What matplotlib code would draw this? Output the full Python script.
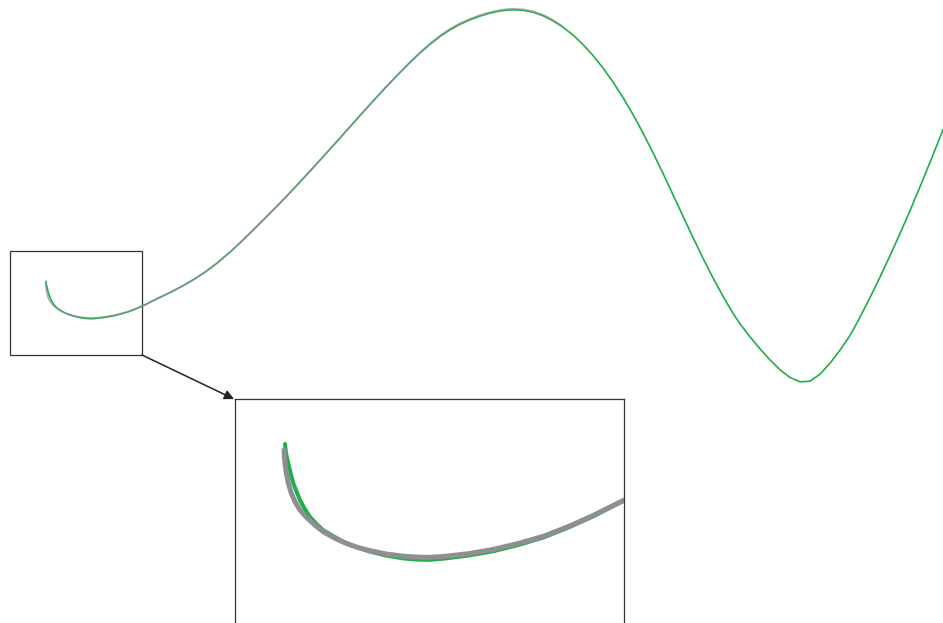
import numpy as np
import matplotlib.pyplot as plt
from matplotlib.patches import Rectangle

# values (x right, y up)
green_x = [0.4600, 0.4632, 0.4707, 0.4782, 0.4867, 0.4974, 0.5081, 0.5241, 0.5401, 0.5615,
           0.5829, 0.6149, 0.6470, 0.6897, 0.7324, 0.7859, 0.8393, 0.8820, 0.9247, 0.9728,
           1.0529, 1.1331, 1.2132, 1.2933, 1.3735, 1.4536, 1.5337,
           1.60, 1.72, 1.83, 1.95, 2.05, 2.17, 2.30, 2.40, 2.50, 2.62, 2.75, 2.87, 3.00,
           3.12, 3.25, 3.37, 3.50, 3.62, 3.75, 3.87, 4.00, 4.10, 4.20, 4.30, 4.40, 4.50,
           4.60, 4.70, 4.80, 4.90, 5.00, 5.07, 5.13, 5.23, 5.33, 5.43, 5.53, 5.63, 5.73,
           5.83, 5.93, 6.03, 6.13, 6.23, 6.33, 6.43, 6.53, 6.63, 6.73, 6.83, 6.93, 7.03,
           7.13, 7.23, 7.33, 7.40, 7.50, 7.60, 7.70, 7.80, 7.90, 8.00, 8.10, 8.20, 8.30,
           8.40, 8.50, 8.58, 8.70, 8.80, 8.90, 9.00, 9.10, 9.20, 9.32, 9.43]
green_y = [3.417, 3.387, 3.354, 3.322, 3.290, 3.263, 3.236, 3.207, 3.182, 3.159,
           3.139, 3.120, 3.102, 3.084, 3.070, 3.057, 3.048, 3.044, 3.043, 3.047,
           3.057, 3.071, 3.091, 3.115, 3.147, 3.183, 3.224,
           3.256, 3.314, 3.372, 3.442, 3.508, 3.598, 3.708, 3.801, 3.898, 4.017, 4.148, 4.272, 4.410,
           4.540, 4.683, 4.816, 4.962, 5.096, 5.240, 5.370, 5.505, 5.605, 5.700, 5.787, 5.865, 5.932,
           5.987, 6.032, 6.069, 6.099, 6.120, 6.129, 6.132, 6.127, 6.108, 6.073, 6.021, 5.958, 5.880,
           5.785, 5.675, 5.550, 5.410, 5.255, 5.085, 4.900, 4.703, 4.496, 4.283, 4.068, 3.855, 3.648,
           3.451, 3.268, 3.097, 2.992, 2.862, 2.742, 2.631, 2.532, 2.455, 2.412, 2.418, 2.488, 2.598,
           2.728, 2.875, 3.020, 3.254, 3.459, 3.674, 3.894, 4.124, 4.362, 4.656, 4.933]

gray_x = [0.4568, 0.4579, 0.4600, 0.4643, 0.4707, 0.4803, 0.4921, 0.5081, 0.5295, 0.5562,
          0.5829, 0.6203, 0.6577, 0.6950, 0.7324, 0.7859, 0.8393, 0.8820, 0.9247, 0.9728,
          1.0529, 1.1331, 1.2132, 1.2933, 1.3735, 1.4536, 1.5337,
          1.60, 1.72, 1.83, 1.95, 2.05, 2.17, 2.30, 2.40, 2.50, 2.62, 2.75, 2.87, 3.00,
          3.12, 3.25, 3.37, 3.50, 3.62, 3.75, 3.87, 4.00, 4.10, 4.20, 4.30, 4.40, 4.50,
          4.60, 4.70, 4.80, 4.90, 5.00, 5.07, 5.13, 5.23, 5.33, 5.43, 5.53, 5.62]
gray_y = [3.403, 3.376, 3.354, 3.322, 3.290, 3.258, 3.231, 3.204, 3.180, 3.155,
          3.134, 3.113, 3.096, 3.083, 3.073, 3.062, 3.055, 3.052, 3.051, 3.054,
          3.063, 3.077, 3.096, 3.119, 3.150, 3.186, 3.226,
          3.258, 3.316, 3.374, 3.444, 3.510, 3.600, 3.710, 3.803, 3.900, 4.019, 4.150, 4.274, 4.412,
          4.542, 4.685, 4.818, 4.964, 5.098, 5.242, 5.372, 5.507, 5.609, 5.706, 5.795, 5.874, 5.942,
          5.997, 6.042, 6.079, 6.109, 6.130, 6.139, 6.142, 6.137, 6.118, 6.083, 6.031, 5.972]

green = '#1fae4b'
gray = '#8f8f93'

fig = plt.figure(figsize=(9.43, 6.23), dpi=100)
ax = fig.add_axes([0, 0, 1, 1])
ax.set_xlim(0, 9.43)
ax.set_ylim(0, 6.23)
ax.axis('off')

ax.plot(green_x, green_y, color=green, lw=1.2, solid_capstyle='round')
ax.plot(gray_x, gray_y, color=gray, lw=1.2, alpha=0.7, solid_capstyle='round')

# box round the start of the curve
ax.add_patch(Rectangle((0.10, 2.68), 1.32, 1.04, fill=False, ec='#333333', lw=0.9))
ax.annotate('', xy=(2.34, 2.24), xytext=(1.42, 2.68),
            arrowprops=dict(arrowstyle='-|>', color='#222222', lw=1.1,
                            mutation_scale=14, shrinkA=0, shrinkB=0),
            annotation_clip=False)

# zoomed view
axin = fig.add_axes([235 / 943, (623 - 705.5) / 623, 389 / 943, 306.5 / 623])
axin.plot(green_x, green_y, color=green, lw=2.9, solid_capstyle='round')
axin.plot(gray_x, gray_y, color=gray, lw=3.6, solid_capstyle='butt')
axin.set_xlim(0.2987, 1.5535)
axin.set_ylim(2.573, 3.562)
axin.set_xticks([])
axin.set_yticks([])
for s in axin.spines.values():
    s.set_color('#333333')
    s.set_linewidth(0.9)

fig.savefig('out.png', dpi=100)
